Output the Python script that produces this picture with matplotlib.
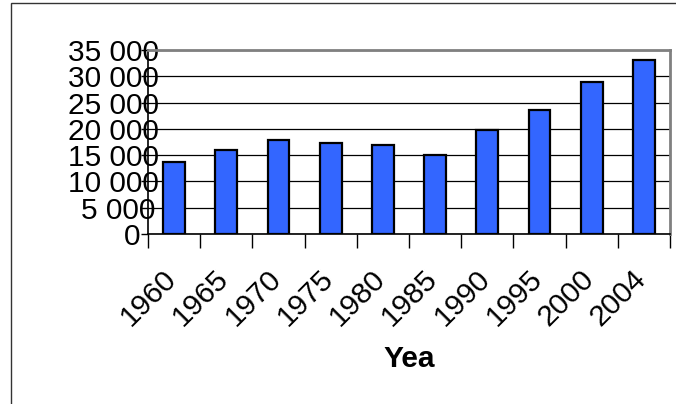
import matplotlib.pyplot as plt
from matplotlib.patches import Rectangle
from matplotlib.ticker import FixedLocator, FuncFormatter, MultipleLocator
from matplotlib.transforms import ScaledTranslation

# --- données ---
annees = ["1960", "1965", "1970", "1975", "1980", "1985", "1990", "1995", "2000", "2004"]
valeurs = [13650, 15900, 17950, 17300, 17000, 15050, 19850, 23650, 28900, 33100]
titre_x = "Yea"

plt.rcParams['font.family'] = ['Liberation Sans', 'DejaVu Sans']

fig = plt.figure(figsize=(6.76, 4.04), dpi=100)
ax = fig.add_axes([148 / 676, 170 / 404, 522 / 676, 184 / 404])

# cadre autour du graphique
fig.patches.append(Rectangle((11 / 676, -0.1), 1.2, (404 - 3) / 404 + 0.1,
                             transform=fig.transFigure, fill=False,
                             edgecolor='#333333', linewidth=1.0))

pos = range(len(annees))
ax.bar(pos, valeurs, width=0.42, color='#3366FF', edgecolor='black',
       linewidth=1.6, zorder=3)

ax.set_xlim(-0.5, len(annees) - 0.5)
ax.set_ylim(0, 35000)

# axe Y
ax.yaxis.set_major_locator(MultipleLocator(5000))
ax.yaxis.set_major_formatter(FuncFormatter(lambda v, p: f"{v:,.0f}".replace(",", " ")))
ax.grid(axis='y', color='black', linewidth=0.9, zorder=0)
ax.tick_params(axis='y', direction='out', length=5, width=1, pad=-13,
               labelsize=21.5, colors='black')
# les étiquettes courtes sont décalées vers la gauche
for lab in ax.get_yticklabels():
    n = len(lab.get_text())
    if n and n < 6:
        dx = -(6 - n) * 3.8 / 100
        lab.set_transform(lab.get_transform() + ScaledTranslation(dx, 0, fig.dpi_scale_trans))

# axe X : graduations entre les catégories, étiquettes au centre
ax.xaxis.set_major_locator(FixedLocator([i - 0.5 for i in range(len(annees) + 1)]))
ax.xaxis.set_major_formatter(FuncFormatter(lambda v, p: ""))
ax.set_xticks(list(pos), minor=True)
ax.set_xticklabels(annees, minor=True, rotation=45, ha='right', va='top',
                   fontsize=21.5)
ax.tick_params(axis='x', which='major', direction='out', length=10, width=1)
ax.tick_params(axis='x', which='minor', length=0, pad=22)
for lab in ax.get_xticklabels(minor=True):
    lab.set_transform(lab.get_transform() + ScaledTranslation(8 / 100, 0, fig.dpi_scale_trans))

ax.set_xlabel(titre_x, fontsize=21.5, fontweight='bold', labelpad=10)

for s in ['left', 'bottom']:
    ax.spines[s].set_color('black')
    ax.spines[s].set_linewidth(1.2)
for s in ['top', 'right']:
    ax.spines[s].set_color('#808080')
    ax.spines[s].set_linewidth(2)

fig.savefig("out.png", dpi=100)
